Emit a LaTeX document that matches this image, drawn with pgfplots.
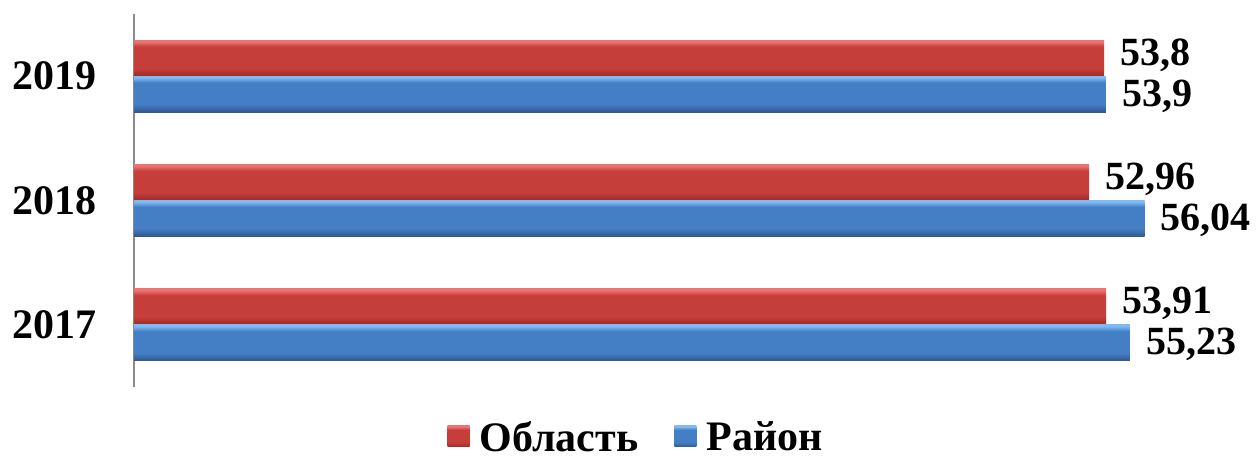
\documentclass[border=0pt]{standalone}
\usepackage{pgfplots}
\pgfplotsset{compat=1.18}
\usepackage{fontspec}
\setmainfont{Liberation Serif}
\definecolor{rtop}{RGB}{238,115,112}
\definecolor{rmid}{RGB}{198,62,58}
\definecolor{rbot}{RGB}{156,44,42}
\definecolor{btop}{RGB}{125,186,246}
\definecolor{bmid}{RGB}{68,126,196}
\definecolor{bbot}{RGB}{50,90,145}
\pgfdeclareverticalshading{redbar}{100bp}{color(0bp)=(rbot); color(26bp)=(rbot); color(36bp)=(rmid); color(66bp)=(rmid); color(73bp)=(rtop); color(100bp)=(rtop)}
\pgfdeclareverticalshading{bluebar}{100bp}{color(0bp)=(bbot); color(26bp)=(bbot); color(36bp)=(bmid); color(66bp)=(bmid); color(73bp)=(btop); color(100bp)=(btop)}
\begin{document}
\begin{tikzpicture}
\begin{axis}[
  at={(134pt,83pt)}, anchor=south west,
  scale only axis, width=1082pt, height=373pt,
  xmin=0, xmax=60, ymin=-0.5, ymax=2.5,
  xbar, bar width=36pt,
  axis x line=none,
  axis y line*=left,
  y axis line style={draw=gray!90, line width=1.8pt},
  ytick={0,1,2}, yticklabels={2017,2018,2019},
  major tick length=0pt,
  yticklabel style={font=\fontsize{42}{42}\selectfont\bfseries, anchor=east, inner sep=0pt, xshift=-37pt},
  clip=false,
  nodes near coords,
  point meta=x,
  every node near coord/.append style={font=\fontsize{40}{40}\selectfont\bfseries, anchor=west, inner sep=0pt, xshift=16pt,
     /pgf/number format/use comma, /pgf/number format/fixed, /pgf/number format/precision=2,
     /pgf/number format/assume math mode=true},
  legend columns=2,
  legend style={draw=none, at={(0.464,-0.134)}, anchor=center,
     font=\fontsize{42}{42}\selectfont\bfseries,
     /tikz/every even column/.append style={column sep=34pt},
     inner sep=0pt, cells={anchor=west}},
  legend image code/.code={\path[#1, draw=none] (0pt,-10pt) rectangle (22pt,11pt); \path (22pt,0pt) -- (30pt,0pt);},
  red/.style={draw=none, shade, shading=redbar, bar shift=18pt,
     every node near coord/.append style={/tikz/yshift=3pt}},
  blue/.style={draw=none, shade, shading=bluebar, bar shift=-18pt,
     every node near coord/.append style={/tikz/yshift=-2pt}},
]
\addplot[red] coordinates {(53.91,0)};
\addplot[blue] coordinates {(55.23,0)};
\addplot[red, forget plot] coordinates {(52.96,1)};
\addplot[blue, forget plot] coordinates {(56.04,1)};
\addplot[red, forget plot] coordinates {(53.8,2)};
\addplot[blue, forget plot] coordinates {(53.9,2)};
\legend{Область, Район}
\end{axis}
\pgfresetboundingbox
\path[use as bounding box] (0,0) rectangle (1258pt,470pt);
\end{tikzpicture}
\end{document}
